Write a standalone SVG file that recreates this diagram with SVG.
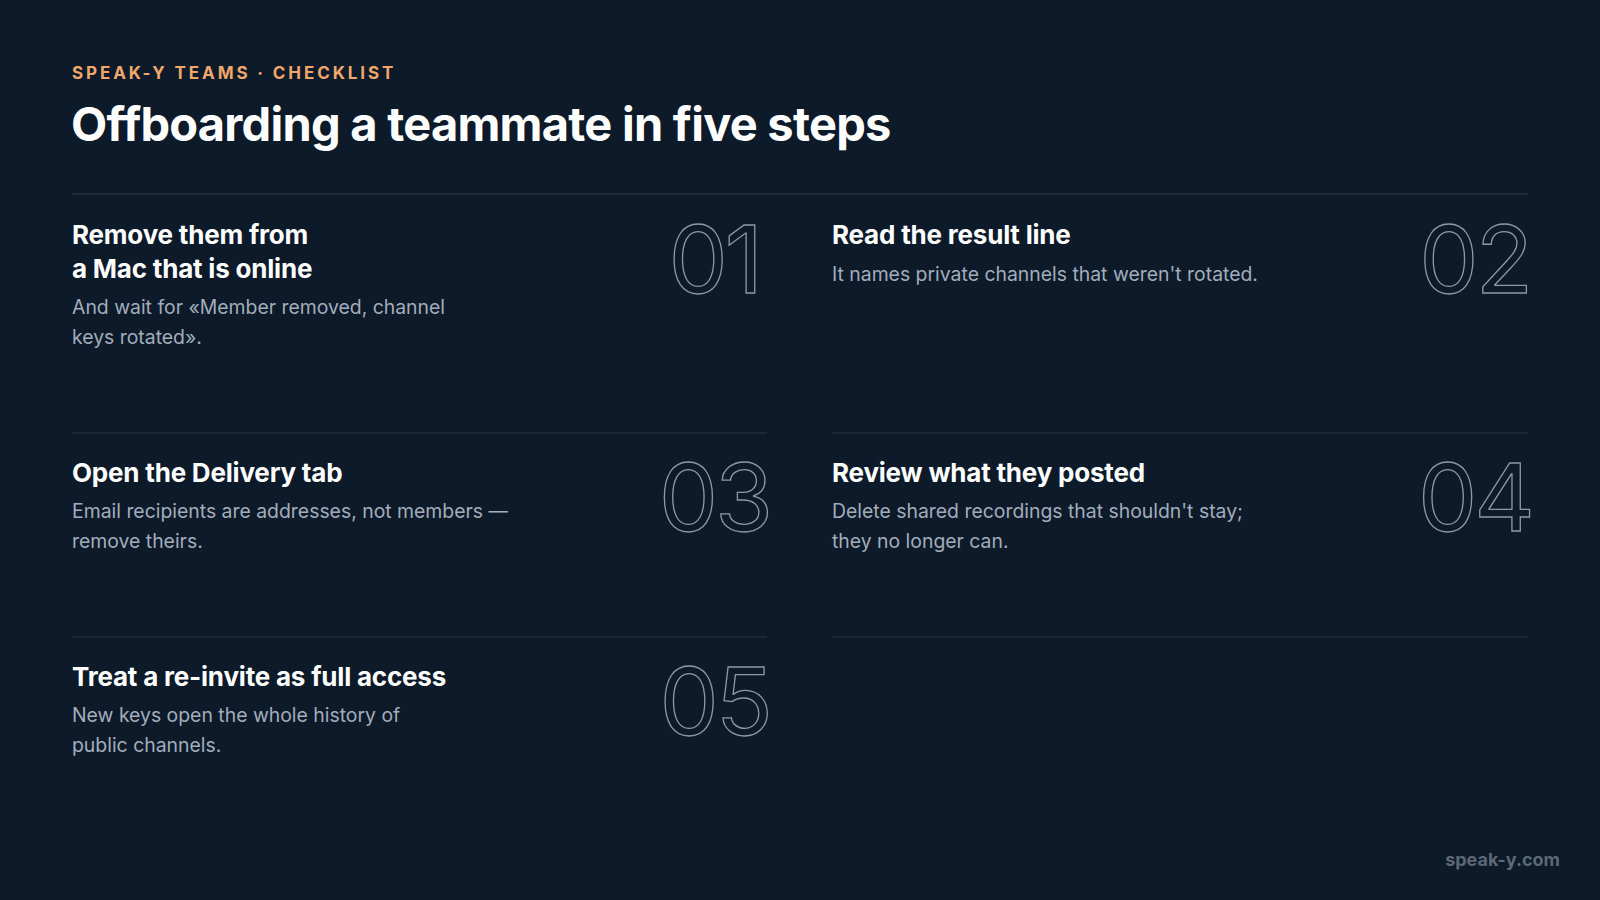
<svg xmlns="http://www.w3.org/2000/svg" width="1600" height="900" viewBox="0 0 1600 900">
<style>
.eb{font-family:Inter,"Liberation Sans",sans-serif;font-size:17px;font-weight:700;fill:#f2a76a;letter-spacing:2.9px}
.tt{font-family:Inter,"Liberation Sans",sans-serif;font-size:47px;font-weight:700;fill:#ffffff;letter-spacing:-0.75px}
.h{font-family:Inter,"Liberation Sans",sans-serif;font-size:26px;font-weight:700;fill:#ffffff;letter-spacing:-0.2px}
.b{font-family:Inter,"Liberation Sans",sans-serif;font-size:19.4px;fill:#a3adbb}
.n{font-family:Inter,"Liberation Sans",sans-serif;font-size:94px;font-weight:400;fill:none;stroke:#8e98a6;stroke-width:1.3;text-anchor:end;letter-spacing:-3px}
.d{stroke:#2a3646;stroke-width:1}
.ft{font-family:Inter,"Liberation Sans",sans-serif;font-size:18px;font-weight:700;fill:#5d6876;text-anchor:end}
</style>
<rect width="1600" height="900" fill="#0c1a2a"/>
<text class="eb" x="72" y="79">SPEAK-Y TEAMS · CHECKLIST</text>
<text class="tt" x="71" y="141">Offboarding a teammate in five steps</text>
<g id="dividers">
<line class="d" x1="72" y1="194" x2="1528" y2="194"/>
<line class="d" x1="72" y1="433" x2="767" y2="433"/>
<line class="d" x1="832" y1="433" x2="1528" y2="433"/>
<line class="d" x1="72" y1="637" x2="767" y2="637"/>
<line class="d" x1="832" y1="637" x2="1528" y2="637"/>
</g>
<g id="step1">
<text class="h" x="72" y="244">Remove them from</text>
<text class="h" x="72" y="278">a Mac that is online</text>
<text class="b" x="72" y="314">And wait for «Member removed, channel</text>
<text class="b" x="72" y="344">keys rotated».</text>
<text class="n" x="760" y="293">01</text>
</g>
<g id="step2">
<text class="h" x="832" y="244">Read the result line</text>
<text class="b" x="832" y="281">It names private channels that weren't rotated.</text>
<text class="n" x="1530" y="293">02</text>
</g>
<g id="step3">
<text class="h" x="72" y="482">Open the Delivery tab</text>
<text class="b" x="72" y="518">Email recipients are addresses, not members —</text>
<text class="b" x="72" y="548">remove theirs.</text>
<text class="n" x="770" y="531">03</text>
</g>
<g id="step4">
<text class="h" x="832" y="482">Review what they posted</text>
<text class="b" x="832" y="518">Delete shared recordings that shouldn't stay;</text>
<text class="b" x="832" y="548">they no longer can.</text>
<text class="n" x="1532" y="531">04</text>
</g>
<g id="step5">
<text class="h" x="72" y="686">Treat a re-invite as full access</text>
<text class="b" x="72" y="722">New keys open the whole history of</text>
<text class="b" x="72" y="752">public channels.</text>
<text class="n" x="770" y="735">05</text>
</g>
<text class="ft" x="1560" y="866">speak-y.com</text>
</svg>
